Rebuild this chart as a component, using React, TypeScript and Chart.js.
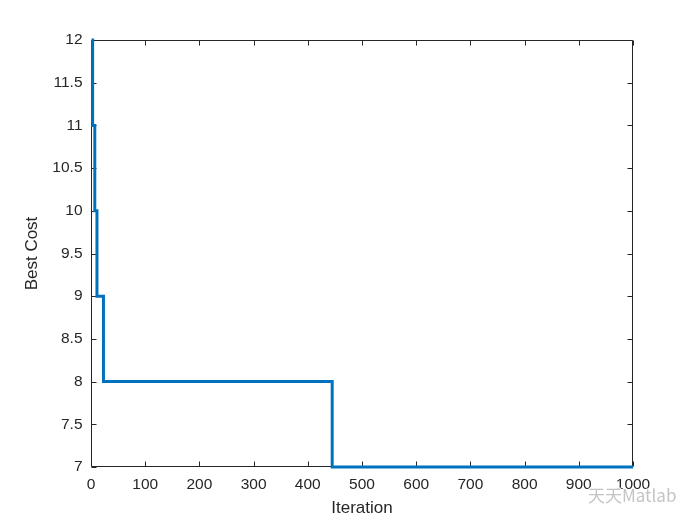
import React, { useEffect, useRef } from 'react';
import { Chart, registerables } from 'chart.js';

Chart.register(...registerables);

// Step points of the best-cost curve (iteration where each level starts/ends)
const iterations = [1, 3, 7, 11, 23, 445, 1000];
const bestCost = [12, 11, 10, 9, 8, 7, 7];

const xTicks = [0, 100, 200, 300, 400, 500, 600, 700, 800, 900, 1000];
const yTicks = [7, 7.5, 8, 8.5, 9, 9.5, 10, 10.5, 11, 11.5, 12];

const xLabel = 'Iteration';
const yLabel = 'Best Cost';
const watermark = '天天Matlab';

const FONT = 'Arial, "Liberation Sans", Helvetica, sans-serif';
const AXIS_COLOR = '#262626';
const LINE_COLOR = '#0072BD';

const boxPlugin = {
  id: 'matlabBox',
  beforeDatasetsDraw(chart: any) {
    const { ctx, chartArea, scales } = chart;
    const l = Math.round(chartArea.left) + 0.5;
    const r = Math.round(chartArea.right) - 0.5;
    const t = Math.round(chartArea.top) + 0.5;
    const b = Math.round(chartArea.bottom) - 0.5;
    const tl = 5;
    ctx.save();
    ctx.strokeStyle = AXIS_COLOR;
    ctx.lineWidth = 1;
    ctx.beginPath();
    ctx.rect(l, t, r - l, b - t);
    for (const v of xTicks) {
      const px = Math.round(scales.x.getPixelForValue(v)) + 0.5;
      ctx.moveTo(px, b);
      ctx.lineTo(px, b - tl);
      ctx.moveTo(px, t);
      ctx.lineTo(px, t + tl);
    }
    for (const v of yTicks) {
      const py = Math.round(scales.y.getPixelForValue(v)) + 0.5;
      ctx.moveTo(l, py);
      ctx.lineTo(l + tl, py);
      ctx.moveTo(r, py);
      ctx.lineTo(r - tl, py);
    }
    ctx.stroke();
    ctx.restore();
  },
  afterDraw(chart: any) {
    const { ctx } = chart;
    ctx.save();
    ctx.font = '17px "Noto Sans CJK SC", ' + FONT;
    ctx.textBaseline = 'middle';
    ctx.textAlign = 'left';
    ctx.lineWidth = 2;
    ctx.strokeStyle = 'rgba(255,255,255,0.9)';
    ctx.fillStyle = 'rgba(190,190,190,0.9)';
    ctx.strokeText(watermark, 588, 496);
    ctx.fillText(watermark, 588, 496);
    ctx.restore();
  },
};

export default function App() {
  const canvasRef = useRef<HTMLCanvasElement | null>(null);

  useEffect(() => {
    const canvas = canvasRef.current;
    if (!canvas) return;
    const points = iterations.map((x, i) => ({ x, y: bestCost[i] }));
    const chart = new Chart(canvas, {
      type: 'line',
      data: {
        datasets: [
          {
            label: yLabel,
            data: points,
            borderColor: LINE_COLOR,
            backgroundColor: LINE_COLOR,
            borderWidth: 3,
            pointRadius: 0,
            stepped: 'before',
            fill: false,
            clip: false,
          } as any,
        ],
      },
      options: {
        animation: false,
        responsive: false,
        maintainAspectRatio: false,
        layout: { padding: { top: 40, right: 67, left: 0, bottom: 0 } },
        plugins: {
          legend: { display: false },
          tooltip: { enabled: false },
        },
        scales: {
          x: {
            type: 'linear',
            min: 0,
            max: 1000,
            grid: { display: false, drawTicks: false },
            border: { display: false },
            afterBuildTicks: (scale: any) => {
              scale.ticks = xTicks.map((v) => ({ value: v }));
            },
            afterFit: (scale: any) => {
              scale.height = 58;
            },
            ticks: {
              padding: 8,
              color: AXIS_COLOR,
              maxRotation: 0,
              autoSkip: false,
              font: { family: FONT, size: 15.5 },
              callback: (v: any) => String(v),
            },
            title: {
              display: true,
              text: xLabel,
              color: AXIS_COLOR,
              font: { family: FONT, size: 17, lineHeight: 1.2 },
              padding: { top: 0, bottom: 6 },
            },
          },
          y: {
            type: 'linear',
            min: 7,
            max: 12,
            grid: { display: false, drawTicks: false },
            border: { display: false },
            afterBuildTicks: (scale: any) => {
              scale.ticks = yTicks.map((v) => ({ value: v }));
            },
            afterFit: (scale: any) => {
              scale.width = 91;
            },
            ticks: {
              padding: 8.5,
              color: AXIS_COLOR,
              autoSkip: false,
              font: { family: FONT, size: 15.5 },
              callback: (v: any) => String(v),
            },
            title: {
              display: true,
              text: yLabel,
              color: AXIS_COLOR,
              font: { family: FONT, size: 17, lineHeight: 1.2 },
              padding: { top: 22, bottom: 0 },
            },
          },
        },
      },
      plugins: [boxPlugin],
    });
    return () => chart.destroy();
  }, []);

  return (
    <div style={{ position: 'fixed', left: 0, top: 0, width: 700, height: 525, background: '#fff' }}>
      <canvas ref={canvasRef} width={700} height={525} style={{ display: 'block' }} />
    </div>
  );
}
